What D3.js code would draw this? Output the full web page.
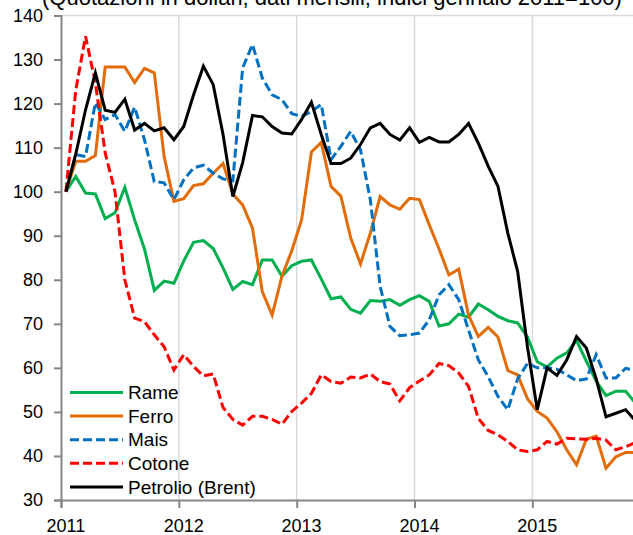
<!DOCTYPE html>
<html>
<head>
<meta charset="utf-8">
<script src="https://cdn.jsdelivr.net/npm/d3@7"></script>
<style>
  body { margin: 0; background: #fff; }
  svg { display: block; font-family: "Liberation Sans", Arial, sans-serif; }
</style>
</head>
<body>
<svg id="chart" width="633" height="535"></svg>
<script>
const title = "(Quotazioni in dollari; dati mensili; indici gennaio 2011=100)";
const years = ["2011", "2012", "2013", "2014", "2015"];
const yTicks = [30, 40, 50, 60, 70, 80, 90, 100, 110, 120, 130, 140];

// monthly values, gen 2011 .. nov 2015
const rame = [100, 103.5, 99.7, 99.5, 93.9, 95.2, 101, 93.6, 87, 77.6, 79.7, 79.2,
  84.3, 88.5, 88.9, 87.1, 82.7, 77.8, 79.6, 78.9, 84.5, 84.5, 80.8, 83.2,
  84.2, 84.5, 80.2, 75.7, 76.1, 73.3, 72.4, 75.3, 75.1, 75.5, 74.2, 75.5,
  76.4, 75.1, 69.5, 70, 72.2, 71.5, 74.5, 73.2, 71.7, 70.7, 70.2, 67,
  61.4, 60.2, 62.2, 63.4, 66.2, 61.5, 57, 53.7, 54.7, 54.7, 52];
const ferro = [100, 106.9, 106.9, 108.2, 128.3, 128.3, 128.3, 124.8, 128, 127, 108, 97.8,
  98.4, 101.4, 101.8, 104.2, 106.4, 99.5, 97, 91.7, 77.3, 72, 80.8, 86.6,
  93.6, 109, 111.2, 101.2, 99, 89.5, 83.6, 90.6, 98.9, 97, 96, 98.5,
  98.2, 92.5, 87, 81.1, 82.4, 72, 67.1, 69.2, 67, 59.4, 58.4, 53,
  50.1, 48.6, 45.5, 41.4, 38, 43.8, 44.5, 37.2, 39.8, 40.8, 40.8];
const mais = [100, 108.4, 108, 120.2, 116.4, 117.5, 113.7, 119.2, 111.8, 102.3, 102, 98.2,
  102.7, 105.4, 106, 104.2, 102.9, 102.5, 128.1, 133.4, 125.8, 122, 120.9, 117.7,
  117.1, 118.2, 119.8, 107.3, 110.3, 113.7, 109.5, 98.2, 78.5, 69.4, 67.3, 67.5,
  67.9, 70.9, 76.6, 78.9, 75.5, 68.6, 61.8, 58, 53.5, 50.5, 57.5, 61,
  60, 60, 59.7, 58.4, 57.1, 57.5, 63, 57.7, 57.7, 59.9, 59.4];
const cotone = [100, 123, 135.3, 124.7, 108.8, 100, 80, 71.3, 70.5, 67.5, 64.8, 59.5,
  63, 60.3, 58.2, 58.6, 51, 48.3, 47, 49, 49, 48.3, 47.2, 50.1,
  52, 54.2, 58.4, 56.9, 56.5, 57.9, 57.7, 58.6, 56.9, 56.3, 52.5, 55.5,
  57, 58.4, 61, 60.5, 58.8, 55.8, 48.5, 45.8, 44.8, 43.3, 41.4, 41,
  41.4, 43.3, 42.7, 44, 43.9, 43.8, 44, 43.6, 41.4, 42.1, 43];
const brent = [100, 108.5, 118.6, 127, 118.5, 118, 121, 114, 115.5, 113.8, 114.5, 111.8,
  114.8, 122, 128.5, 124.3, 113, 98.9, 106.6, 117.3, 117, 114.8, 113.3, 113.1,
  116.4, 120.3, 113, 106.4, 106.4, 107.6, 110.7, 114.5, 115.5, 113, 111.7, 114.5,
  111.2, 112.3, 111.3, 111.3, 113, 115.5, 111, 105.8, 101.2, 90.6, 81.9, 64.8,
  50.5, 60, 58.3, 61.8, 67.1, 64.5, 57.5, 48.9, 49.7, 50.5, 48];

const seriesNames = ["Rame", "Ferro", "Mais", "Cotone", "Petrolio (Brent)"];
const seriesValues = [rame, ferro, mais, cotone, brent];
const seriesColors = ["#00b050", "#e36c0a", "#0070c0", "#ff0000", "#000000"];
const seriesDash = [null, null, "9,4", "9,4", null];

const svg = d3.select("#chart");

const nMonths = 59;
const x = d3.scaleLinear()
  .domain([0, nMonths])
  .range([61, 61 + nMonths * 9.82]);

const y = d3.scaleLinear()
  .domain([30, 140])
  .range([500, 15.5]);

function translate(x, y) {
  return "translate(" + x + "," + y + ")";
}

// title (cut off at the top, as in the original)
svg.append("text")
  .attr("x", 332)
  .attr("y", 5)
  .attr("text-anchor", "middle")
  .style("font-size", "22px")
  .text(title);

// vertical gridlines at year starts
svg.append("g")
  .selectAll("line")
  .data(years.slice(1))
  .join("line")
  .attr("x1", (d, i) => x((i + 1) * 12))
  .attr("x2", (d, i) => x((i + 1) * 12))
  .attr("y1", y(30))
  .attr("y2", y(140))
  .attr("stroke", "#d9d9d9")
  .attr("stroke-width", 1.5);

// top line
svg.append("line")
  .attr("x1", x(0))
  .attr("x2", 633)
  .attr("y1", y(140))
  .attr("y2", y(140))
  .attr("stroke", "#d9d9d9")
  .attr("stroke-width", 1.5);

// y axis
const yAxis = svg.append("g")
  .attr("transform", translate(x(0), 0))
  .call(d3.axisLeft(y).tickValues(yTicks).tickSize(7).tickPadding(11));
yAxis.selectAll("text")
  .style("font-size", "18px")
  .attr("fill", "#000");

// x axis, labels centred on the january category
const xAxis = svg.append("g")
  .attr("transform", translate(0, y(30)))
  .call(d3.axisBottom(x).tickValues([0, 12, 24, 36, 48]).tickSize(8).tickFormat(""));
svg.append("g")
  .selectAll("text")
  .data(years)
  .join("text")
  .attr("x", (d, i) => x(i * 12 + 0.5))
  .attr("y", 532)
  .attr("text-anchor", "middle")
  .style("font-size", "18px")
  .text(d => d);

svg.selectAll(".domain, .tick line")
  .attr("stroke", "#868686")
  .attr("stroke-width", 2);

// series lines
const line = d3.line()
  .x((d, i) => x(i + 0.5))
  .y(d => y(d));

svg.append("g")
  .selectAll("path")
  .data(seriesValues)
  .join("path")
  .attr("d", d => line(d))
  .attr("fill", "none")
  .attr("stroke", (d, i) => seriesColors[i])
  .attr("stroke-width", 3)
  .attr("stroke-dasharray", (d, i) => seriesDash[i])
  .attr("stroke-linejoin", "miter");

// legend
const legend = svg.append("g")
  .selectAll("g")
  .data(seriesNames)
  .join("g")
  .attr("transform", (d, i) => translate(70, 392.5 + i * 23.6));

legend.append("line")
  .attr("x1", 0)
  .attr("x2", 53)
  .attr("stroke", (d, i) => seriesColors[i])
  .attr("stroke-width", 3)
  .attr("stroke-dasharray", (d, i) => seriesDash[i]);

legend.append("text")
  .attr("x", 58)
  .attr("dy", "0.35em")
  .style("font-size", "19px")
  .text(d => d);
</script>
</body>
</html>
